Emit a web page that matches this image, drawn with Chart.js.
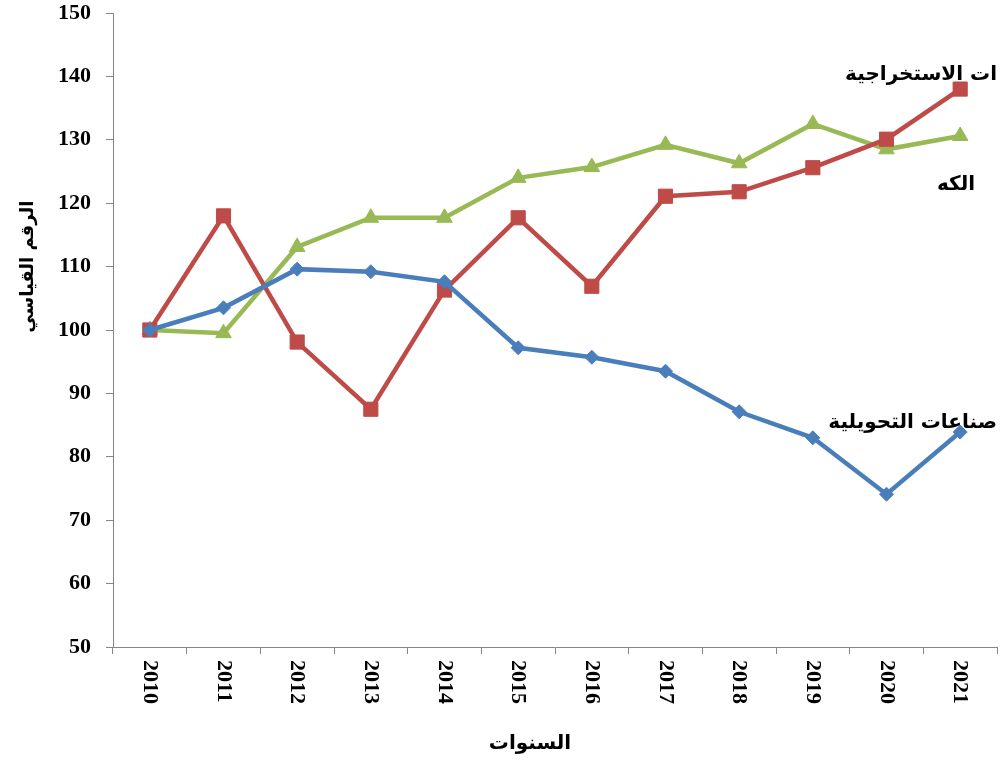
<!DOCTYPE html>
<html>
<head>
<meta charset="utf-8">
<script src="https://cdn.jsdelivr.net/npm/chart.js@4.4.1/dist/chart.umd.min.js"></script>
<style>
  html, body { margin: 0; padding: 0; background: #fff; }
  #wrap { width: 1003px; height: 765px; }
</style>
</head>
<body>
<div id="wrap"><canvas id="lineChart"></canvas></div>
<script>
// --- data ---
const years = ['2010', '2011', '2012', '2013', '2014', '2015', '2016', '2017', '2018', '2019', '2020', '2021'];
const manufacturing = [100, 103.5, 109.6, 109.2, 107.6, 97.2, 95.7, 93.5, 87.1, 83.0, 74.1, 83.9];
const mining = [100, 118.0, 98.1, 87.5, 106.3, 117.7, 106.9, 121.1, 121.8, 125.6, 130.1, 138.0];
const electricity = [100, 99.5, 113.1, 117.7, 117.7, 124.0, 125.7, 129.2, 126.3, 132.5, 128.5, 130.6];
const yMin = 50, yMax = 150, yStep = 10;

const xTitle = 'السنوات';
const yTitle = 'الرقم القياسي';
// texts as they show on the chart (cut at the edge)
const seriesNames = ['صناعات التحويلية', 'ات الاستخراجية', 'الكه'];
const labelValues = [85.3, 140.2, 122.9];

const serif = '"Liberation Serif", "Times New Roman", serif';
const arabic = '"DejaVu Sans", sans-serif';
const axisGrey = '#868686';

// draws the rotated year labels, the axis titles and the series names
const extras = {
    id: 'extras',
    afterDraw(chart) {
        const ctx = chart.ctx;
        const x = chart.scales.x, y = chart.scales.y;
        const area = chart.chartArea;
        ctx.save();
        ctx.fillStyle = '#000';

        // year labels, read top to bottom
        ctx.font = 'bold 22px ' + serif;
        ctx.textAlign = 'left';
        ctx.textBaseline = 'middle';
        years.forEach((yr, i) => {
            ctx.save();
            ctx.translate(x.getPixelForValue(i), area.bottom + 13);
            ctx.rotate(Math.PI / 2);
            ctx.fillText(yr, 0, 0);
            ctx.restore();
        });

        // axis titles
        ctx.font = 'bold 20px ' + arabic;
        ctx.textAlign = 'center';
        ctx.fillText(xTitle, 530, 744);
        ctx.save();
        ctx.font = 'bold 18px ' + arabic;
        ctx.translate(28, y.getPixelForValue(110));
        ctx.rotate(-Math.PI / 2);
        ctx.fillText(yTitle, 0, 0);
        ctx.restore();

        // series names
        ctx.font = 'bold 20px ' + arabic;
        ctx.textAlign = 'right';
        ctx.fillText(seriesNames[0], area.right, y.getPixelForValue(labelValues[0]));
        ctx.fillText(seriesNames[1], area.right, y.getPixelForValue(labelValues[1]));
        ctx.fillText(seriesNames[2], area.right - 22, y.getPixelForValue(labelValues[2]));
        ctx.restore();
    }
};

document.addEventListener('DOMContentLoaded', function() {
    const ctxLine = document.getElementById('lineChart');
    new Chart(ctxLine, {
        type: 'line',
        data: {
            labels: years,
            datasets: [
                {
                    label: seriesNames[0],
                    data: manufacturing,
                    borderColor: '#4a7ebb',
                    backgroundColor: '#4a7ebb',
                    borderWidth: 4.5,
                    pointStyle: 'rectRot',
                    pointRadius: 7,
                    pointBorderWidth: 1
                },
                {
                    label: seriesNames[1],
                    data: mining,
                    borderColor: '#be4b48',
                    backgroundColor: '#be4b48',
                    borderWidth: 4.5,
                    pointStyle: 'rect',
                    pointRadius: 10,
                    pointBorderWidth: 1
                },
                {
                    label: seriesNames[2],
                    data: electricity,
                    borderColor: '#98b954',
                    backgroundColor: '#98b954',
                    borderWidth: 4.5,
                    pointStyle: 'triangle',
                    pointRadius: 9,
                    pointBorderWidth: 1
                }
            ]
        },
        options: {
            responsive: true,
            maintainAspectRatio: false,
            animation: false,
            layout: { autoPadding: false, padding: { top: 13, right: 6, left: 0, bottom: 0 } },
            plugins: { legend: { display: false }, tooltip: { enabled: false } },
            scales: {
                x: {
                    offset: true,
                    ticks: { display: false },
                    grid: { offset: true, drawOnChartArea: false, tickLength: 7, color: axisGrey },
                    border: { color: axisGrey, width: 1 },
                    afterFit: s => {
                        s.height = 118;
                        s.paddingLeft = 0; s.paddingRight = 0;
                    }
                },
                y: {
                    min: yMin,
                    max: yMax,
                    ticks: {
                        stepSize: yStep,
                        padding: 15,
                        color: '#000',
                        font: { family: serif, size: 22, weight: 'bold' }
                    },
                    grid: { drawOnChartArea: false, tickLength: 7, color: axisGrey },
                    border: { color: axisGrey, width: 1 },
                    afterFit: s => {
                        s.width = 113;
                        s.paddingTop = 0; s.paddingBottom = 0;
                    }
                }
            }
        },
        plugins: [extras]
    });
});
</script>
</body>
</html>
